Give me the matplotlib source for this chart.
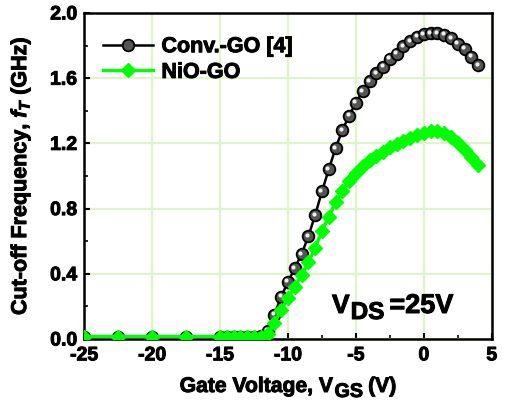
import matplotlib
matplotlib.use("Agg")
import matplotlib.pyplot as plt
import matplotlib.transforms as mtransforms
import matplotlib.patheffects as patheffects
from matplotlib.ticker import MultipleLocator

plt.rcParams['font.family'] = ['Liberation Sans', 'DejaVu Sans']
plt.rcParams['font.weight'] = 'bold'
plt.rcParams['axes.unicode_minus'] = False
plt.rcParams['mathtext.fontset'] = 'custom'
plt.rcParams['mathtext.it'] = 'Liberation Sans:italic:bold'
plt.rcParams['mathtext.rm'] = 'Liberation Sans:bold'
plt.rcParams['mathtext.bf'] = 'Liberation Sans:bold'

# Conv.-GO [4]
conv_v = [-25, -22.5, -20, -17.5, -15, -14.5, -14, -13.5, -13, -12.5, -12,
          -11.5, -11, -10.5, -10, -9.5, -9, -8.5, -8, -7.5, -7, -6.5, -6,
          -5.5, -5, -4.5, -4, -3.5, -3, -2.5, -2, -1.5, -1, -0.5, 0, 0.5,
          1, 1.5, 2, 2.5, 3, 3.5, 4]
conv_f = [0.015, 0.015, 0.015, 0.015, 0.015, 0.015, 0.015, 0.015, 0.015, 0.015, 0.02,
          0.05, 0.15, 0.26, 0.35, 0.435, 0.52, 0.63, 0.76, 0.905, 1.04, 1.17, 1.28,
          1.37, 1.45, 1.52, 1.58, 1.63, 1.67, 1.72, 1.75, 1.795, 1.825, 1.855, 1.87, 1.875,
          1.875, 1.865, 1.845, 1.81, 1.78, 1.73, 1.68]

# NiO-GO
nio_v = [-25, -22.5, -20, -17.5, -15, -14.5, -14, -13.5, -13, -12.5, -12,
         -11.5, -11, -10.5, -10, -9.5, -9, -8.5, -8, -7.5, -7, -6.5, -6,
         -5.5, -5, -4.5, -4, -3.5, -3, -2.5, -2, -1.5, -1, -0.5, 0, 0.5,
         1, 1.5, 2, 2.5, 3, 3.5, 4]
nio_f = [0.015, 0.015, 0.015, 0.015, 0.015, 0.015, 0.015, 0.015, 0.015, 0.015, 0.015,
         0.03, 0.10, 0.18, 0.25, 0.32, 0.39, 0.47, 0.56, 0.66, 0.75, 0.84, 0.91,
         0.97, 1.02, 1.06, 1.095, 1.125, 1.15, 1.175, 1.195, 1.215, 1.235, 1.25, 1.265, 1.275,
         1.275, 1.265, 1.24, 1.2, 1.16, 1.115, 1.07]

xticks = [-25, -20, -15, -10, -5, 0, 5]
yticks = [0.0, 0.4, 0.8, 1.2, 1.6, 2.0]

FAT = [patheffects.withStroke(linewidth=0.7, foreground='black')]

fig = plt.figure(figsize=(5.07, 4.05), dpi=100)
ax = fig.add_axes([0.166, 0.163, 0.804, 0.805])
renderer = fig.canvas.get_renderer()

ax.plot(conv_v, conv_f, '-', color='black', lw=1.8, marker='o', ms=8.4,
        mfc='#555555', mec='black', mew=1.3, zorder=3, label='Conv.-GO [4]')
hl = ax.transData + mtransforms.ScaledTranslation(-1.5/100, 1.5/100, fig.dpi_scale_trans)
ax.plot(conv_v, conv_f, ls='none', marker='o', ms=3.0, mfc='#eeeeee', mec='none',
        transform=hl, zorder=3.5)
ax.plot(nio_v, nio_f, '-', color='#00ff00', lw=2.4, marker='D', ms=7,
        mfc='#00ff00', mec='#00ff00', zorder=4, label='NiO-GO')

ax.set_xlim(-25, 5)
ax.set_ylim(0, 2.0)
ax.set_xticks(xticks)
ax.set_yticks(yticks)
ax.set_xticklabels([str(t) for t in xticks])
ax.set_yticklabels([f"{t:.1f}" for t in yticks])
ax.xaxis.set_minor_locator(MultipleLocator(2.5))
ax.yaxis.set_minor_locator(MultipleLocator(0.2))
ax.tick_params(which='major', direction='in', length=4, width=1.5, labelsize=14,
               top=False, right=False)
ax.tick_params(axis='x', which='major', pad=6)
ax.tick_params(axis='y', which='major', pad=5)
ax.tick_params(which='minor', direction='in', length=3, width=1.2, top=False, right=False)
for lab in ax.get_xticklabels() + ax.get_yticklabels():
    lab.set_fontweight('bold')
    lab.set_path_effects(FAT)
ax.grid(True, which='major', color='#e3f3c8', lw=1.6, zorder=0)
ax.set_axisbelow(True)
for s in ax.spines.values():
    s.set_linewidth(1.8)

yl = ax.set_ylabel(r'Cut-off Frequency, $f_T$ (GHz)', fontsize=15.5, fontweight='bold')
yl.set_path_effects(FAT)
ax.yaxis.set_label_coords(-0.125, 0.5)

leg = ax.legend(loc='upper left', frameon=False, fontsize=15.5, handlelength=2.3,
                borderaxespad=0.3, labelspacing=0.22, handletextpad=0.4,
                bbox_to_anchor=(0.01, 0.975))
for t in leg.get_texts():
    t.set_fontweight('bold')
    t.set_path_effects(FAT)


def seq_text(x, y, pieces, base, center=False):
    """pieces: (string, fontsize, dy_px, gap_px_before)"""
    items = []
    total = 0
    for s, size, dy, gap in pieces:
        t = fig.text(x, y, s, transform=base, fontsize=size, fontweight='bold',
                     ha='left', va='baseline', path_effects=FAT)
        w = t.get_window_extent(renderer).width
        items.append((t, dy, gap, w))
        total += gap + w
    cum = -total / 2 if center else 0
    for t, dy, gap, w in items:
        cum += gap
        t.set_transform(mtransforms.offset_copy(base, fig=fig, x=cum, y=dy, units='dots'))
        cum += w


# x-axis label
seq_text(0.5 * (0.166 + 0.970), 13 / 405,
         [('Gate Voltage, V', 15.2, 0, 0), ('GS', 14.2, -5, 1), ('(V)', 15.2, 0, 5)],
         fig.transFigure, center=True)

# V_DS annotation
seq_text(332 / 507, (405 - 313) / 405,
         [('V', 19, 0, 0), ('DS', 17.5, -6, 1), ('=25V', 19.5, 0, 5)],
         fig.transFigure)

fig.savefig('out.png', dpi=100)
